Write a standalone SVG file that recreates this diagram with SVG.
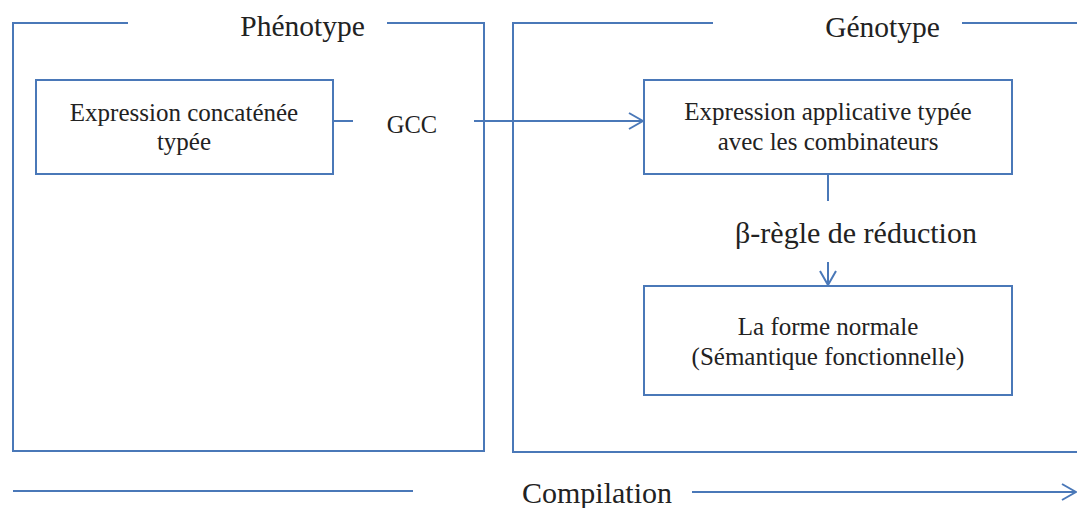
<svg xmlns="http://www.w3.org/2000/svg" width="1077" height="508" viewBox="0 0 1077 508">
<style>
  .ln { fill: none; stroke: #4a78b8; stroke-width: 2; }
  .bx { fill: #ffffff; stroke: #4a78b8; stroke-width: 2; }
  .t { font-family: 'Liberation Serif', 'Times New Roman', Times, 'DejaVu Serif', serif; fill: #222222; text-anchor: middle; }
  .s25 { font-size: 25px; }
  .s24 { font-size: 24.5px; }
  .s30 { font-size: 30px; }
  .s29 { font-size: 29.5px; }
</style>
<defs>
  <marker id="chev" viewBox="0 0 16 18" refX="15" refY="9" markerWidth="16" markerHeight="18" markerUnits="userSpaceOnUse" orient="auto">
    <path d="M1,1 L15,9 L1,17" fill="none" stroke="#4a78b8" stroke-width="2"/>
  </marker>
</defs>
<rect width="1077" height="508" fill="#ffffff"/>

<g id="frame-phenotype">
  <path class="ln" d="M128,23 H13 V451 H484 V23 H387"/>
  <text class="t s29" x="302.5" y="36" font-family="Liberation Serif, serif">Phénotype</text>
</g>

<g id="frame-genotype">
  <path class="ln" d="M713,23 H513 V452 H1077"/>
  <path class="ln" d="M962,23 H1077"/>
  <text class="t s29" x="882.5" y="37">Génotype</text>
</g>

<g id="node-concat">
  <rect class="bx" x="36" y="80" width="297" height="94"/>
  <text class="t s25" x="184" y="121">Expression concaténée</text>
  <text class="t s25" x="184" y="150">typée</text>
</g>

<g id="node-applicative">
  <rect class="bx" x="644" y="80" width="368" height="94"/>
  <text class="t s25" x="828" y="120">Expression applicative typée</text>
  <text class="t s25" x="828" y="150">avec les combinateurs</text>
</g>

<g id="node-normal">
  <rect class="bx" x="644" y="286" width="368" height="109"/>
  <text class="t s25" x="828" y="335">La forme normale</text>
  <text class="t s25" x="828" y="365">(Sémantique fonctionnelle)</text>
</g>

<g id="connectors">
  <line class="ln" x1="333" y1="121" x2="353" y2="121"/>
  <line class="ln" x1="474" y1="121" x2="643" y2="121" marker-end="url(#chev)"/>
  <line class="ln" x1="828" y1="174" x2="828" y2="201"/>
  <line class="ln" x1="828" y1="262" x2="828" y2="285" marker-end="url(#chev)"/>
  <line class="ln" x1="13" y1="491" x2="413" y2="491"/>
  <line class="ln" x1="692" y1="492" x2="1076" y2="492" marker-end="url(#chev)"/>
</g>

<g id="labels">
  <text class="t s24" x="412" y="133">GCC</text>
  <text class="t s30" x="856" y="243">β-règle de réduction</text>
  <text class="t s30" x="597" y="503">Compilation</text>
</g>
</svg>
